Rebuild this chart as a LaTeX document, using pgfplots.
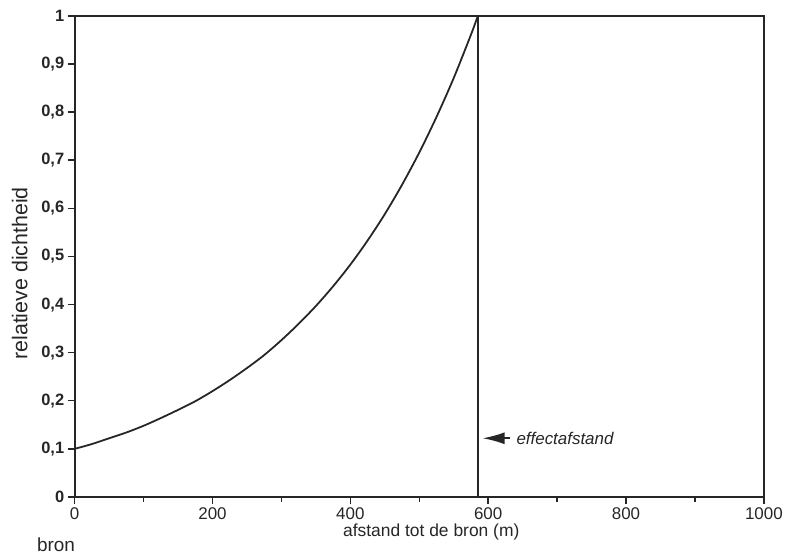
\documentclass[border=0pt]{standalone}
\usepackage{pgfplots}
\pgfplotsset{compat=1.18}
\usetikzlibrary{arrows.meta}
\usepackage{fontspec}
\setmainfont{Liberation Sans}
\begin{document}
\begin{tikzpicture}
\begin{axis}[
  scale only axis,
  width=692pt, height=483pt,
  xmin=0, xmax=1000, ymin=0, ymax=1,
  xtick={0,200,...,1000},
  minor xtick={100,300,...,900},
  ytick={0,0.1,...,1},
  tick align=outside,
  major tick length=7pt,
  minor tick length=5pt,
  xtick pos=bottom, ytick pos=left,
  axis line style={line width=1.8pt, black!85},
  every tick/.style={line width=1.5pt, black!85},
  /pgf/number format/assume math mode=true,
  /pgf/number format/use comma,
  /pgf/number format/1000 sep={},
  yticklabel style={font=\fontsize{16.5}{19}\selectfont\bfseries, black!85},
  xticklabel style={font=\fontsize{17}{19}\selectfont, black!85},
  xlabel={afstand tot de bron (m)},
  ylabel={relatieve dichtheid},
  xlabel style={font=\fontsize{17.5}{20}\selectfont, black!85, yshift=2pt, xshift=12pt},
  ylabel style={font=\fontsize{21.5}{24}\selectfont, black!85, yshift=7pt, xshift=-17pt},
  clip=false,
]
\addplot[line width=1.8pt, black!85, smooth] coordinates {
  (0,0.100) (25,0.110) (50,0.122) (75,0.134) (100,0.148) (125,0.164)
  (150,0.181) (175,0.199) (200,0.220) (225,0.243) (250,0.268) (275,0.295)
  (300,0.326) (325,0.360) (350,0.397) (375,0.438) (400,0.483) (425,0.533)
  (450,0.588) (475,0.649) (500,0.716) (525,0.790) (550,0.871) (575,0.961)
  (585,1.000)
};
% effectafstand
\addplot[line width=1.5pt, black!85] coordinates {(585,0) (585,1)};
\draw[-{Latex[length=22pt,width=12pt]}, line width=1.6pt, black!85]
  (axis cs:632,0.122) -- (axis cs:592,0.122);
\node[anchor=west, font=\fontsize{17}{20}\selectfont\itshape, black!85]
  at (axis cs:636,0.122) {effectafstand};
\node[font=\fontsize{19}{22}\selectfont, black!85]
  at (axis cs:-27,-0.099) {bron};
\path ([xshift=-75pt,yshift=-56pt]rel axis cs:0,0) rectangle ([xshift=19pt,yshift=16pt]rel axis cs:1,1);
\end{axis}
\end{tikzpicture}
\end{document}
